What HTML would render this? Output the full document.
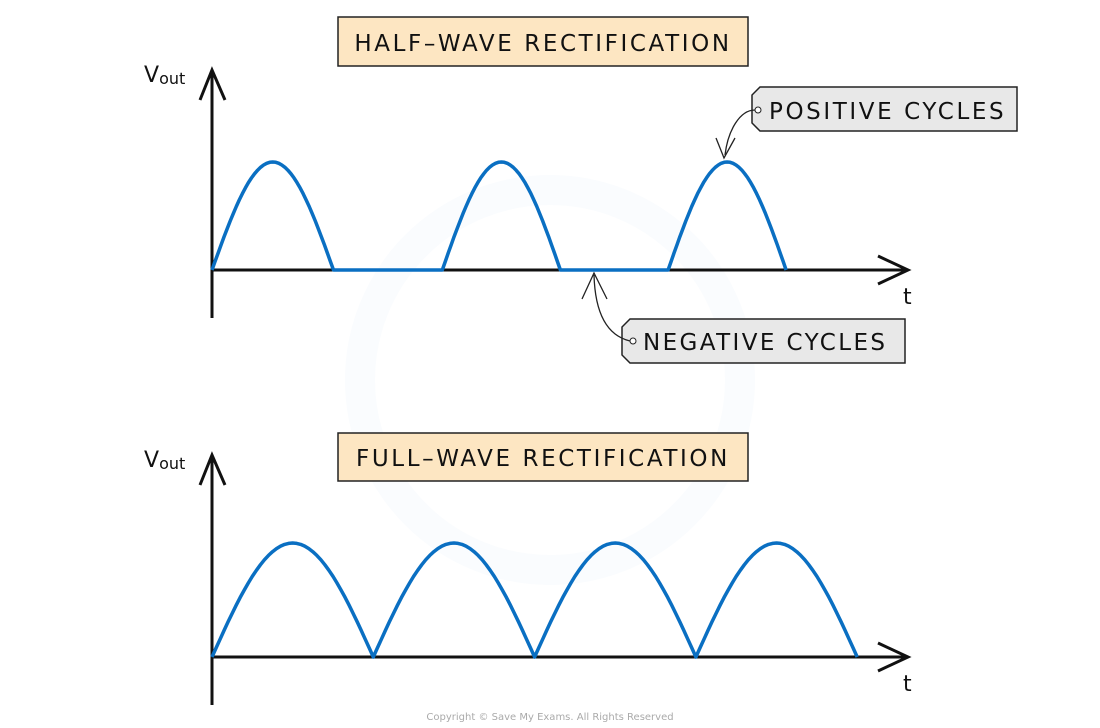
<!DOCTYPE html>
<html><head><meta charset="utf-8"><style>
body{margin:0;background:#fff}
svg{display:block}
text{font-family:"DejaVu Sans","Liberation Sans",sans-serif}
</style></head><body>
<svg id="c" width="1100" height="728" viewBox="0 0 1100 728">
<g opacity="0.025">
<circle cx="550" cy="380" r="190" fill="none" stroke="#2a7bd0" stroke-width="30"/>
</g>
<g>
<rect x="338" y="17" width="410" height="49" fill="#fde6c2" stroke="#222" stroke-width="1.5"/>
<text x="543" y="51" text-anchor="middle" font-size="23" letter-spacing="2.6" fill="#111">HALF–WAVE  RECTIFICATION</text>
</g>
<g>
<rect x="338" y="433" width="410" height="48" fill="#fde6c2" stroke="#222" stroke-width="1.5"/>
<text x="543" y="466" text-anchor="middle" font-size="23" letter-spacing="2.6" fill="#111">FULL–WAVE  RECTIFICATION</text>
</g>
<g>
<path d="M760 87 H1017 V131 H760 L752 123 V95 Z" fill="#e8e8e8" stroke="#222" stroke-width="1.5"/>
<circle cx="758" cy="110" r="3" fill="#fff" stroke="#222"/>
<text x="769" y="119" font-size="23" letter-spacing="2.6" fill="#111">POSITIVE  CYCLES</text>
<path d="M755 110 C740 110 728 130 725 155" fill="none" stroke="#222" stroke-width="1.3"/>
<path d="M716 138 L724 158 L735 138" fill="none" stroke="#222" stroke-width="1.3"/>
</g>
<g>
<path d="M630 319 H905 V363 H630 L622 355 V327 Z" fill="#e8e8e8" stroke="#222" stroke-width="1.5"/>
<circle cx="633" cy="341" r="3" fill="#fff" stroke="#222"/>
<text x="643" y="350" font-size="23" letter-spacing="2.4" fill="#111">NEGATIVE  CYCLES</text>
<path d="M630 341 C605 335 595 310 594 275" fill="none" stroke="#222" stroke-width="1.3"/>
<path d="M582 299 L594 273 L607 299" fill="none" stroke="#222" stroke-width="1.3"/>
</g>
<g id="plots"></g>
<text x="550" y="720" text-anchor="middle" font-size="10" fill="#aaa">Copyright © Save My Exams. All Rights Reserved</text>
</svg>
<script>
const halfWaveAmp = [1, 0, 1, 0, 1];
const halfWaveDur = [1.06, 0.95, 1.03, 0.94, 1.03];
const fullWaveAmp = [1, 1, 1, 1];
const fullWaveDur = [1, 1, 1, 1];
const ns = "http://www.w3.org/2000/svg";
const g = document.getElementById('plots');
function mk(tag, attrs){const e=document.createElementNS(ns,tag);for(const k in attrs)e.setAttribute(k,attrs[k]);g.appendChild(e);return e;}
function plot(name, amps, durs, x0, unitW, base, ampPx, yTop, yBot, xEnd){
  let a=mk('path',{d:`M${x0} ${yBot} V${yTop}`,stroke:'#111','stroke-width':3,fill:'none'});
  
  
  let ah=mk('path',{d:`M${x0-12} ${yTop+30} L${x0} ${yTop} L${x0+13} ${yTop+30}`,stroke:'#111','stroke-width':3,fill:'none'});
  
  
  let xa=mk('path',{d:`M${x0} ${base} H${xEnd}`,stroke:'#111','stroke-width':3,fill:'none'});
  
  
  let xh=mk('path',{d:`M${xEnd-30} ${base-14} L${xEnd} ${base} L${xEnd-30} ${base+14}`,stroke:'#111','stroke-width':3,fill:'none'});
  
  
  let t=mk('text',{x:xEnd-5,y:base+34,'font-size':22,fill:'#111'});t.textContent='t';
  
  
  let v=mk('text',{x:x0-68,y:yTop+12,'font-size':22,fill:'#111'});
  v.innerHTML='V<tspan font-size="16" dy="2">out</tspan>';
  
  
  let d=`M${x0} ${base}`;
  let tStart=0;
  amps.forEach((amp,i)=>{
    const dur=durs[i];
    for(let k=1;k<=40;k++){
      const f=k/40;
      const x=x0+(tStart+f*dur)*unitW;
      const y=base-amp*ampPx*Math.sin(Math.PI*f);
      d+=` L${x.toFixed(1)} ${y.toFixed(1)}`;
    }
    tStart+=dur;
  });
  let w=mk('path',{d:d,stroke:'#0a6fc2','stroke-width':3.5,fill:'none','stroke-linejoin':'round'});
  
  
}
plot('half-wave', halfWaveAmp, halfWaveDur, 212, 114.6, 270, 108, 70, 318, 908);
plot('full-wave', fullWaveAmp, fullWaveDur, 212, 161.3, 657, 114, 455, 705, 908);
</script>
</body></html>
